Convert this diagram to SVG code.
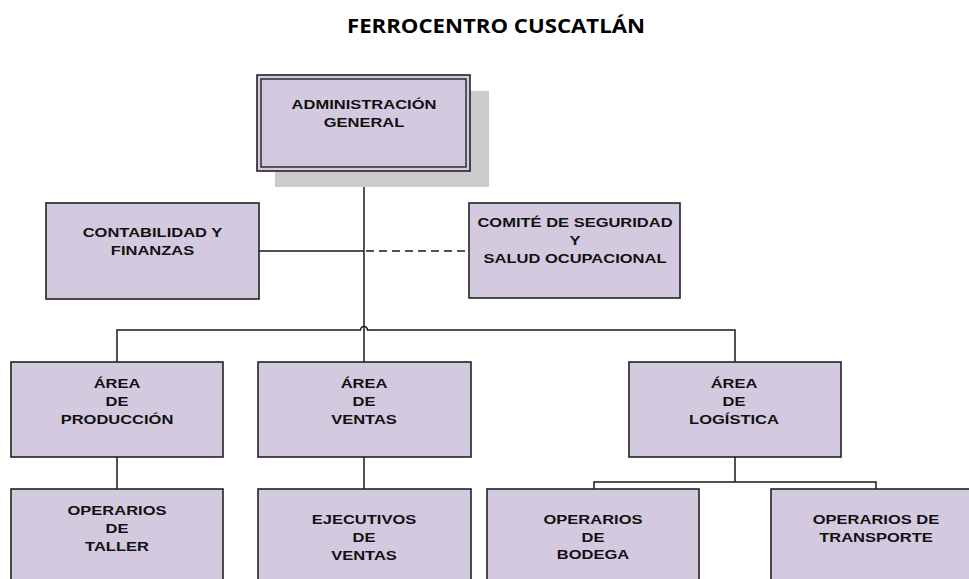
<svg xmlns="http://www.w3.org/2000/svg" width="969" height="579" viewBox="0 0 969 579">
<style>
.box{fill:#D3CAE0;stroke:#222;stroke-width:1.6}
.inner{fill:none;stroke:#222;stroke-width:1.4}
.shadow{fill:#CBCBCB;stroke:none}
.ln{fill:none;stroke:#1a1a1a;stroke-width:1.5}
.dash{fill:none;stroke:#1a1a1a;stroke-width:1.4;stroke-dasharray:8 5}
.t text{font-family:"Liberation Sans",Arial,sans-serif;font-weight:bold;font-size:13px;fill:#111;text-anchor:middle}
.title{font-family:"Open Sans","Liberation Sans",sans-serif;font-weight:bold;font-size:19px;fill:#000;text-anchor:middle}
</style>
<rect width="969" height="579" fill="#fff"/>
<text class="title" x="496" y="33" textLength="298" lengthAdjust="spacingAndGlyphs">FERROCENTRO CUSCATLÁN</text>

<g id="connectors">
  <path class="ln" d="M364 171 V362"/>
  <path class="ln" d="M259 251 H364"/>
  <path class="dash" d="M366 251 H469"/>
  <path class="ln" d="M117 362 V330 H360.5 A3.5 3.5 0 0 1 367.5 330 H735 V362"/>
  <path class="ln" d="M117 457 V489"/>
  <path class="ln" d="M364 457 V489"/>
  <path class="ln" d="M735 457 V482 M594 489 V482 H876 V489"/>
</g>

<g id="admin">
  <rect class="shadow" x="275" y="91" width="214" height="96"/>
  <rect class="box" x="257" y="75" width="213" height="96" stroke-width="2"/>
  <rect class="inner" x="261" y="79" width="205" height="88"/>
  <g class="t" transform="matrix(1.27 0 0 1 364 0)"><text y="109">ADMINISTRACIÓN</text><text y="127">GENERAL</text></g>
</g>

<g id="contabilidad">
  <rect class="box" x="46" y="203" width="213" height="96"/>
  <g class="t" transform="matrix(1.27 0 0 1 152.5 0)"><text y="237">CONTABILIDAD Y</text><text y="255">FINANZAS</text></g>
</g>

<g id="comite">
  <rect class="box" x="469" y="203" width="211" height="95"/>
  <g class="t" transform="matrix(1.27 0 0 1 575 0)"><text y="227">COMITÉ DE SEGURIDAD</text><text y="245">Y</text><text y="263">SALUD OCUPACIONAL</text></g>
</g>

<g id="produccion">
  <rect class="box" x="11" y="362" width="212" height="95"/>
  <g class="t" transform="matrix(1.27 0 0 1 117 0)"><text y="388">ÁREA</text><text y="406">DE</text><text y="424">PRODUCCIÓN</text></g>
</g>

<g id="ventas">
  <rect class="box" x="258" y="362" width="213" height="95"/>
  <g class="t" transform="matrix(1.27 0 0 1 364 0)"><text y="388">ÁREA</text><text y="406">DE</text><text y="424">VENTAS</text></g>
</g>

<g id="logistica">
  <rect class="box" x="629" y="362" width="212" height="95"/>
  <g class="t" transform="matrix(1.27 0 0 1 734 0)"><text y="388">ÁREA</text><text y="406">DE</text><text y="424">LOGÍSTICA</text></g>
</g>

<g id="taller">
  <rect class="box" x="11" y="489" width="212" height="100"/>
  <g class="t" transform="matrix(1.27 0 0 1 117 0)"><text y="515">OPERARIOS</text><text y="533">DE</text><text y="551">TALLER</text></g>
</g>

<g id="ejecutivos">
  <rect class="box" x="258" y="489" width="213" height="100"/>
  <g class="t" transform="matrix(1.27 0 0 1 364 0)"><text y="524">EJECUTIVOS</text><text y="542">DE</text><text y="560">VENTAS</text></g>
</g>

<g id="bodega">
  <rect class="box" x="487" y="489" width="212" height="100"/>
  <g class="t" transform="matrix(1.27 0 0 1 593 0)"><text y="524">OPERARIOS</text><text y="542">DE</text><text y="559">BODEGA</text></g>
</g>

<g id="transporte">
  <rect class="box" x="771" y="489" width="210" height="100"/>
  <g class="t" transform="matrix(1.27 0 0 1 876 0)"><text y="524">OPERARIOS DE</text><text y="542">TRANSPORTE</text></g>
</g>
</svg>
